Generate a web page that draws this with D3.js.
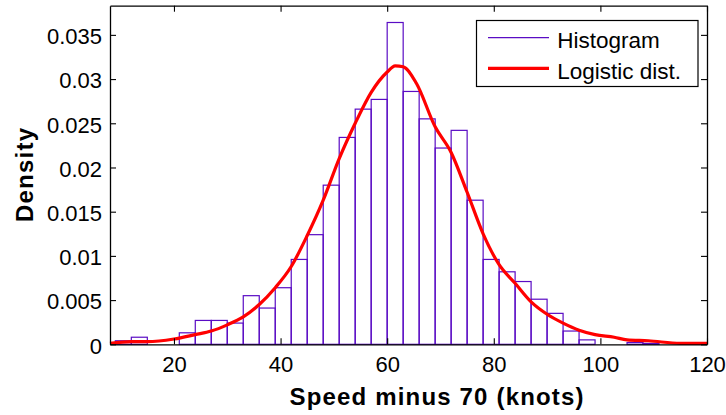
<!DOCTYPE html>
<html>
<head>
<meta charset="utf-8">
<script src="https://cdn.jsdelivr.net/npm/d3@7"></script>
<style>
  body { margin: 0; background: #fff; }
  svg { display: block; font-family: "Liberation Sans", Arial, sans-serif; }
</style>
</head>
<body>
<svg id="chart" width="726" height="415"></svg>
<script>
// histogram bins (left edges, width 3 knots) and densities
const binStart = [9, 12, 15, 18, 21, 24, 27, 30, 33, 36, 39, 42, 45, 48, 51, 54, 57, 60, 63,
  66, 69, 72, 75, 78, 81, 84, 87, 90, 93, 96, 99, 102, 105, 108, 111, 114, 117];
const binDensity = [0.0004, 0.0008, 0, 0, 0.0013, 0.0027, 0.0027, 0.0024, 0.0055, 0.0041, 0.0064,
  0.0096, 0.0124, 0.0180, 0.0234, 0.0266, 0.0277, 0.0364, 0.0286, 0.0255, 0.0222, 0.0242,
  0.0163, 0.0096, 0.0082, 0.0071, 0.0051, 0.0035, 0.0015, 0.0005, 0, 0, 0.0002, 0.0001, 0, 0, 0];
const binWidth = 3;

// fitted logistic curve
const curveX = [8, 12, 15, 20, 24, 27, 30, 33, 36, 39, 42, 45, 48, 51, 54, 57, 60, 61.5, 63,
  65.5, 69, 72, 75, 78, 81, 84, 87, 90, 93, 96, 99, 102.6, 105, 109, 115, 120];
const curveY = [0.0001, 0.0003, 0.0003, 0.0006, 0.0011, 0.0015, 0.0022, 0.0031, 0.0045, 0.0064,
  0.0088, 0.0123, 0.0163, 0.0210, 0.0250, 0.0285, 0.0308, 0.0315, 0.0314, 0.0295, 0.0246,
  0.0217, 0.0172, 0.0125, 0.0090, 0.0069, 0.0048, 0.0034, 0.0024, 0.0016, 0.0011, 0.0008,
  0.0005, 0.0004, 0.0001, 0.0001];

const xTicks = [20, 40, 60, 80, 100, 120];
const yTicks = [0, 0.005, 0.01, 0.015, 0.02, 0.025, 0.03, 0.035];
const legendLabels = ["Histogram", "Logistic dist."];

const plotL = 110, plotR = 707, plotT = 5.7, plotB = 344.3;
const histColor = "#5a0cc4", curveColor = "#ff0000";

const svg = d3.select("#chart");
const x = d3.scaleLinear().domain([8, 120]).range([plotL, plotR]);
const y = d3.scaleLinear().domain([0, 0.0383]).range([plotB, plotT]);
const fmt = d => d === 0 ? "0" : String(+d.toFixed(3));

// bars
svg.append("g")
  .selectAll("rect")
  .data(binStart)
  .join("rect")
  .attr("x", (d, i) => x(d))
  .attr("y", (d, i) => y(binDensity[i]))
  .attr("width", d => x(d + binWidth) - x(d))
  .attr("height", (d, i) => y(0) - y(binDensity[i]))
  .attr("fill", "none")
  .attr("stroke", histColor)
  .attr("stroke-width", 1.2);

// curve
const line = d3.line().x(d => x(d[0])).y(d => y(d[1])).curve(d3.curveMonotoneX);
svg.append("path")
  .datum(curveX.map((v, i) => [v, curveY[i]]))
  .attr("d", line)
  .attr("fill", "none")
  .attr("stroke", curveColor)
  .attr("stroke-width", 3.2)
  .attr("stroke-linejoin", "round");

// axes, ticks inward on all four sides
function styleAxis(g) {
  g.select(".domain").attr("stroke", "#000").attr("stroke-width", 1.3);
  g.selectAll(".tick line").attr("stroke", "#000").attr("stroke-width", 1.1);
  g.selectAll("text").attr("font-size", 22).attr("fill", "#000")
    .attr("font-family", "'Liberation Sans', Arial, sans-serif");
}
svg.append("g").attr("transform", `translate(0,${plotB})`)
  .call(d3.axisBottom(x).tickValues(xTicks).tickSize(-6).tickSizeOuter(0).tickPadding(12))
  .call(styleAxis);
svg.append("g").attr("transform", `translate(0,${plotT})`)
  .call(d3.axisTop(x).tickValues(xTicks).tickSize(-6).tickSizeOuter(0).tickFormat(""))
  .call(styleAxis);
svg.append("g").attr("transform", `translate(${plotL},0)`)
  .call(d3.axisLeft(y).tickValues(yTicks).tickSize(-6).tickSizeOuter(0).tickPadding(8).tickFormat(fmt))
  .call(styleAxis)
  .call(g => g.selectAll("text").attr("dy", "0.4em"));
svg.append("g").attr("transform", `translate(${plotR},0)`)
  .call(d3.axisRight(y).tickValues(yTicks).tickSize(-6).tickSizeOuter(0).tickFormat(""))
  .call(styleAxis);

// axis titles
svg.append("text")
  .attr("x", 289.5).attr("y", 404.5)
  .attr("font-size", 24).attr("font-weight", "bold")
  .attr("textLength", 294).attr("lengthAdjust", "spacing")
  .text("Speed minus 70 (knots)");
svg.append("text")
  .attr("transform", `translate(32.7,222) rotate(-90)`)
  .attr("font-size", 24).attr("font-weight", "bold")
  .attr("textLength", 94).attr("lengthAdjust", "spacing")
  .text("Density");

// legend
const lg = svg.append("g");
lg.append("rect")
  .attr("x", 476.5).attr("y", 20.5).attr("width", 221.5).attr("height", 66)
  .attr("fill", "#fff").attr("stroke", "#000").attr("stroke-width", 1.2);
const legendColors = [histColor, curveColor];
const legendWidths = [1.2, 3.2];
legendLabels.forEach((t, i) => {
  const ly = 37.7 + i * 30.6;
  lg.append("line").attr("x1", 488).attr("x2", 549).attr("y1", ly).attr("y2", ly)
    .attr("stroke", legendColors[i]).attr("stroke-width", legendWidths[i]);
  lg.append("text").attr("x", 557.3).attr("y", ly + 10.3)
    .attr("font-size", 22.5).text(t);
});
</script>
</body>
</html>
